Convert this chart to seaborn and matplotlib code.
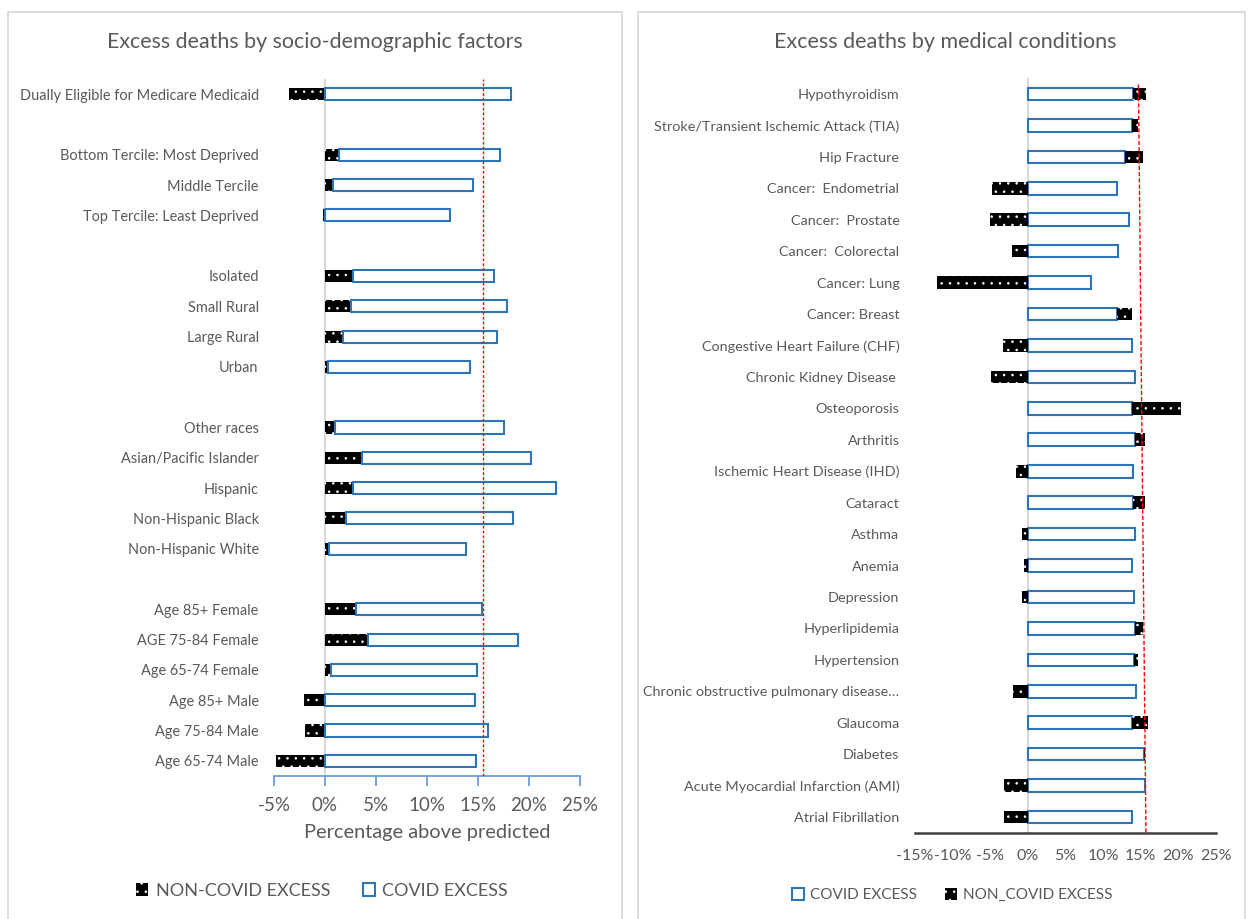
import numpy as np
import pandas as pd
import matplotlib
matplotlib.use("Agg")
import matplotlib.pyplot as plt
import seaborn as sns
from matplotlib.patches import Patch, Rectangle

# ---------------- data ----------------
# Socio-demographic groups (blank entries are spacer rows between blocks)
left_groups = [
    "Dually Eligible for Medicare Medicaid", " ",
    "Bottom Tercile: Most Deprived", "Middle Tercile", "Top Tercile: Least Deprived", "  ",
    "Isolated", "Small Rural", "Large Rural", "Urban", "   ",
    "Other races", "Asian/Pacific Islander", "Hispanic", "Non-Hispanic Black", "Non-Hispanic White", "    ",
    "Age 85+ Female", "AGE 75-84 Female", "Age 65-74 Female",
    "Age 85+ Male", "Age 75-84 Male", "Age 65-74 Male",
]
left_noncovid = [-3.5, np.nan, 1.4, 0.8, -0.2, np.nan, 2.7, 2.5, 1.8, 0.3, np.nan,
                 1.0, 3.6, 2.7, 2.1, 0.4, np.nan, 3.0, 4.2, 0.6, -2.1, -2.0, -4.8]
left_covid = [18.2, np.nan, 15.8, 13.7, 12.3, np.nan, 13.9, 15.3, 15.1, 13.9, np.nan,
              16.5, 16.6, 19.9, 16.3, 13.4, np.nan, 12.4, 14.7, 14.3, 14.7, 16.0, 14.8]
left_reference = 15.5

# Medical conditions
right_conditions = [
    "Hypothyroidism", "Stroke/Transient Ischemic Attack (TIA)", "Hip Fracture",
    "Cancer:  Endometrial", "Cancer:  Prostate", "Cancer:  Colorectal", "Cancer: Lung",
    "Cancer: Breast", "Congestive Heart Failure (CHF)", "Chronic Kidney Disease ",
    "Osteoporosis", "Arthritis", "Ischemic Heart Disease (IHD)", "Cataract", "Asthma",
    "Anemia", "Depression", "Hyperlipidemia", "Hypertension",
    "Chronic obstructive pulmonary disease…", "Glaucoma", "Diabetes",
    "Acute Myocardial Infarction (AMI)", "Atrial Fibrillation",
]
right_covid = [14.0, 13.9, 12.9, 11.9, 13.4, 12.0, 8.4, 11.8, 13.8, 14.2, 13.9, 14.2,
               14.0, 14.0, 14.2, 13.9, 14.1, 14.2, 14.1, 14.4, 13.9, 15.4, 15.6, 13.8]
right_noncovid = [1.7, 0.7, 2.4, -4.7, -5.0, -2.1, -12.0, 2.1, -3.3, -4.9, 6.5, 1.4,
                  -1.5, 1.6, -0.7, -0.5, -0.7, 1.1, 0.5, -1.9, 2.1, 0.2, -3.2, -3.1]
right_reference = [14.7, 15.7]   # trend of the reference line, top to bottom

left_ticks = [-5, 0, 5, 10, 15, 20, 25]
right_ticks = [-15, -10, -5, 0, 5, 10, 15, 20, 25]

# ---------------- style ----------------
sns.set_theme(style="white")
plt.rcParams["font.family"] = ["Lato", "DejaVu Sans"]
plt.rcParams["hatch.linewidth"] = 0.6
plt.rcParams["hatch.color"] = "white"

TEXT = "#595959"
BLUE = "#2E75B6"
AXIS_BLUE = "#6A9FD6"
GRID = "#D9D9D9"
BAR_H = 0.4

W, H = 1248, 919
fig = plt.figure(figsize=(W / 100, H / 100), dpi=100)


def box(x0, y0, x1, y1):
    return [x0 / W, 1 - y1 / H, (x1 - x0) / W, (y1 - y0) / H]


# panel frames
for x0, x1 in [(8, 622), (638, 1245)]:
    fig.patches.append(Rectangle((x0 / W, -0.05), (x1 - x0) / W, 1.05 - 12 / H,
                                 transform=fig.transFigure, fill=False,
                                 edgecolor=GRID, linewidth=1.3))

axL = fig.add_axes(box(274, 79, 580, 776))
axR = fig.add_axes(box(914.7, 78.3, 1216, 832.7))

# ---------------- left panel ----------------
dfL = pd.DataFrame({"group": left_groups, "noncovid": left_noncovid, "covid": left_covid}).dropna()
sns.barplot(data=dfL, y="group", x="noncovid", order=left_groups, orient="y",
            color="black", saturation=1, width=BAR_H, hatch="..", edgecolor="white",
            linewidth=0, errorbar=None, ax=axL)
posL = [left_groups.index(g) for g in dfL["group"]]
startL = dfL["noncovid"].clip(lower=0).to_numpy()
axL.barh(posL, dfL["covid"].to_numpy(), left=startL, height=BAR_H,
         facecolor="white", edgecolor=BLUE, linewidth=1.5)
axL.axvline(0, color=GRID, lw=1.5, zorder=0)
axL.axvline(left_reference, color="red", lw=1, ls=(0, (2, 1.5)), zorder=3)

axL.set_xlim(left_ticks[0], left_ticks[-1])
axL.set_ylim(len(left_groups) - 0.5, -0.5)
axL.set_xticks(left_ticks)
axL.set_xticklabels([f"{t}%" for t in left_ticks])
axL.set_ylabel("")
axL.set_xlabel("Percentage above predicted", color=TEXT, fontsize=14.4, labelpad=7)
for s in ["top", "right", "left"]:
    axL.spines[s].set_visible(False)
axL.spines["bottom"].set_color(AXIS_BLUE)
axL.spines["bottom"].set_linewidth(1.3)
axL.tick_params(axis="x", direction="out", length=7, width=1.3, color=AXIS_BLUE,
                labelcolor=TEXT, labelsize=13.5, pad=8, bottom=True)
axL.tick_params(axis="y", length=0, pad=11, labelcolor=TEXT, labelsize=10.45)

# ---------------- right panel ----------------
dfR = pd.DataFrame({"condition": right_conditions, "covid": right_covid,
                    "noncovid": right_noncovid})
sns.barplot(data=dfR, y="condition", x="covid", order=right_conditions, orient="y",
            color="white", saturation=1, width=BAR_H, edgecolor=BLUE, linewidth=1.5,
            errorbar=None, ax=axR)
posR = np.arange(len(right_conditions))
nc = dfR["noncovid"].to_numpy()
startR = np.where(nc > 0, dfR["covid"].to_numpy(), 0)
axR.barh(posR, nc, left=startR, height=BAR_H, color="black", hatch="..",
         edgecolor="white", linewidth=0)
axR.axvline(0, color=GRID, lw=1.5, zorder=0)
axR.plot(right_reference, [-0.3, len(right_conditions) - 0.5], color="red", lw=1,
         ls=(0, (3, 1.5)), zorder=3)

axR.set_xlim(right_ticks[0], right_ticks[-1])
axR.set_ylim(len(right_conditions) - 0.5, -0.5)
axR.set_xticks(right_ticks)
axR.set_xticklabels([f"{t}%" for t in right_ticks])
axR.set_xlabel("")
axR.set_ylabel("")
for s in ["top", "right", "left"]:
    axR.spines[s].set_visible(False)
axR.spines["bottom"].set_color("#404040")
axR.spines["bottom"].set_linewidth(1.8)
axR.tick_params(axis="x", length=0, labelcolor=TEXT, labelsize=11.5, pad=12)
axR.tick_params(axis="y", length=0, pad=11, labelcolor=TEXT, labelsize=10.4)

# ---------------- titles ----------------
fig.text(315 / W, 1 - 42 / H, "Excess deaths by socio-demographic factors",
         ha="center", va="center", color=TEXT, fontsize=15.4)
fig.text(945 / W, 1 - 42 / H, "Excess deaths by medical conditions",
         ha="center", va="center", color=TEXT, fontsize=15.5)

# ---------------- legends ----------------
h_non = Patch(facecolor="black", edgecolor="white", linewidth=0, hatch="..")
h_cov = Patch(facecolor="white", edgecolor=BLUE, linewidth=1.5)
fig.legend([h_non, h_cov], ["NON-COVID EXCESS", "COVID EXCESS"], loc="center",
           bbox_to_anchor=(322 / W, 1 - 891 / H), ncol=2, frameon=False,
           handlelength=0.7, handleheight=0.7, handletextpad=0.4, columnspacing=1.8,
           fontsize=13, labelcolor=TEXT)
fig.legend([h_cov, h_non], ["COVID EXCESS", "NON_COVID EXCESS"], loc="center",
           bbox_to_anchor=(952 / W, 1 - 895 / H), ncol=2, frameon=False,
           handlelength=0.8, handleheight=0.8, handletextpad=0.4, columnspacing=1.8,
           fontsize=11, labelcolor=TEXT)

fig.savefig("out.png", dpi=100)
